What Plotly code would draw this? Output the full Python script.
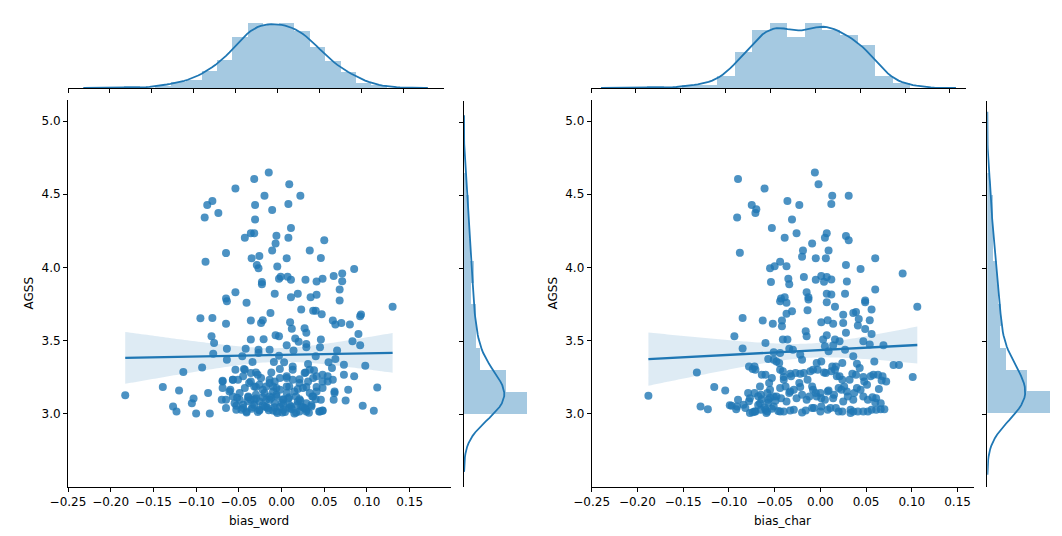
import numpy as np
import plotly.graph_objects as go

# values (bias vs AGSS)
bias_word = [
    -0.015, -0.032, -0.054, 0.009, -0.020, 0.022, -0.081, -0.087, -0.031, 0.008,
    -0.011, -0.090, -0.074, -0.031, 0.011, -0.043, -0.036, -0.032, -0.006, -0.007,
    0.008, 0.050, -0.011, 0.033, -0.065, -0.089, -0.026, -0.035, 0.006, 0.046,
    -0.029, -0.027, -0.005, 0.085, 0.071, 0.071, 0.061, 0.048, 0.041, 0.028,
    0.011, 0.007, -0.001, -0.003, -0.023, -0.023, 0.068, -0.054, -0.008, 0.019,
    0.041, 0.034, -0.065, 0.011, 0.068,
    -0.064, -0.041, 0.130, -0.013, 0.023, 0.037, 0.040, 0.047, -0.095, -0.081,
    -0.036, -0.024, -0.022, -0.065, 0.010, 0.012, 0.027, 0.029, 0.060, 0.063,
    0.070, 0.080, 0.092, 0.093, -0.082, -0.079, -0.036, -0.021, -0.007, -0.003,
    0.016, 0.020, 0.029, 0.046, 0.090, 0.083, 0.092, -0.064, -0.042, -0.027,
    -0.014, 0.006, 0.014, 0.029, 0.045, 0.065, -0.080, -0.064, -0.046, -0.034,
    -0.027, -0.003, 0.003, -0.009, 0.013, 0.031, 0.040, 0.055, 0.063, 0.073,
    0.098, -0.115, -0.093, -0.054, -0.044, -0.030, -0.012, -0.002, 0.013, 0.028,
    0.038, 0.059, 0.073, 0.085, -0.069, -0.057, -0.045, -0.036, -0.024, -0.014,
    0.006, 0.021, 0.037, 0.048, 0.054, -0.139, -0.120, -0.086, -0.069, -0.060,
    -0.043, -0.030, -0.018, -0.006, 0.006, 0.019, 0.029, 0.041, 0.062, 0.078,
    0.112, -0.183, -0.103, -0.105, -0.070, -0.057, -0.049, -0.039, -0.032, -0.022,
    -0.014, -0.006, 0.002, 0.009, 0.021, 0.036, 0.061, 0.075, -0.127, -0.123,
    -0.100, -0.084, -0.065, -0.053, -0.047, -0.041, -0.034, -0.026, -0.018, -0.010,
    -0.002, 0.001, 0.009, 0.017, 0.027, 0.029, 0.044, 0.048, 0.095, 0.108,
    -0.069, -0.057, -0.051, -0.043, -0.036, -0.028, -0.038, -0.032, -0.026, -0.014,
    -0.008, -0.002, 0.006, 0.013, 0.021, 0.027, 0.033, 0.041, 0.048, 0.054,
    0.060, -0.061, -0.049, -0.039, -0.030, -0.020, -0.010, -0.002, 0.006, 0.015,
    0.025, 0.033, 0.041, 0.048, 0.062, -0.065, -0.055, -0.045, -0.036, -0.026,
    -0.018, -0.008, 0.002, 0.009, 0.019, 0.029, 0.037, 0.046, -0.053, -0.041,
    -0.026, -0.016, -0.006, 0.002, 0.011, 0.021, 0.029, 0.045, 0.048,
    -0.022, -0.014, -0.006, 0.002, -0.020, -0.032, 0.017, 0.023, -0.010, 0.009,
    0.031, 0.035,
    -0.035, -0.028, -0.022, -0.015, -0.008, 0.004, 0.012, 0.018, 0.025, 0.032,
    -0.045, -0.040, -0.030, -0.012, 0.000, 0.008, 0.022, 0.035, -0.005, 0.015,
    -0.052, 0.040,
]
agss_word = [
    4.648, 4.605, 4.539, 4.568, 4.489, 4.489, 4.454, 4.427, 4.427, 4.434,
    4.393, 4.342, 4.372, 4.327, 4.269, 4.203, 4.233, 4.233, 4.217, 4.164,
    4.203, 4.185, 4.116, 4.116, 4.098, 4.039, 4.078, 4.062, 4.062, 4.064,
    4.016, 3.995, 4.007, 3.989, 3.959, 3.906, 3.941, 3.922, 3.904, 3.916,
    3.916, 3.936, 3.936, 3.922, 3.900, 3.886, 3.849, 3.831, 3.820, 3.820,
    3.813, 3.797, 3.788, 3.797, 3.774,
    3.769, 3.758, 3.731, 3.689, 3.712, 3.705, 3.705, 3.680, 3.653, 3.655,
    3.637, 3.621, 3.639, 3.616, 3.626, 3.582, 3.584, 3.553, 3.637, 3.610,
    3.621, 3.610, 3.667, 3.678, 3.530, 3.484, 3.507, 3.509, 3.537, 3.530,
    3.514, 3.493, 3.477, 3.507, 3.546, 3.495, 3.468, 3.445, 3.445, 3.438,
    3.438, 3.468, 3.432, 3.454, 3.454, 3.432, 3.411, 3.370, 3.393, 3.354,
    3.416, 3.397, 3.352, 3.354, 3.324, 3.340, 3.393, 3.352, 3.374, 3.336,
    3.329, 3.285, 3.317, 3.301, 3.306, 3.283, 3.283, 3.306, 3.301, 3.283,
    3.297, 3.313, 3.267, 3.256, 3.226, 3.233, 3.256, 3.221, 3.244, 3.233,
    3.244, 3.237, 3.244, 3.221, 3.256, 3.183, 3.160, 3.142, 3.176, 3.164,
    3.176, 3.183, 3.187, 3.176, 3.187, 3.169, 3.183, 3.183, 3.153, 3.164,
    3.180, 3.126, 3.105, 3.073, 3.096, 3.119, 3.096, 3.114, 3.096, 3.114,
    3.096, 3.119, 3.100, 3.114, 3.100, 3.119, 3.096, 3.091, 3.050, 3.016,
    3.002, 3.002, 3.039, 3.055, 3.027, 3.009, 3.046, 3.023, 3.046, 3.023,
    3.046, 3.009, 3.039, 3.009, 3.039, 3.016, 3.016, 3.021, 3.055, 3.021,
    3.221, 3.233, 3.233, 3.301, 3.279, 3.267, 3.210, 3.187, 3.199, 3.210,
    3.221, 3.244, 3.256, 3.233, 3.210, 3.279, 3.301, 3.256, 3.267, 3.221,
    3.233, 3.153, 3.142, 3.119, 3.130, 3.142, 3.153, 3.164, 3.142, 3.153,
    3.176, 3.142, 3.153, 3.176, 3.142, 3.096, 3.073, 3.062, 3.096, 3.084,
    3.096, 3.073, 3.096, 3.062, 3.084, 3.073, 3.119, 3.096, 3.027, 3.016,
    3.027, 3.039, 3.016, 3.027, 3.050, 3.016, 3.027, 3.016, 3.023,
    3.164, 3.119, 3.130, 3.062, 3.050, 3.062, 3.119, 3.050, 3.187, 3.187,
    3.221, 3.050,
    3.035, 3.012, 3.058, 3.025, 3.045, 3.012, 3.032, 3.060, 3.045, 3.008,
    3.040, 3.085, 3.105, 3.110, 3.075, 3.105, 3.090, 3.060, 3.005, 3.003,
    3.110, 3.100,
]

bias_char = [
    -0.006, -0.090, -0.061, -0.002, 0.013, 0.031, -0.036, -0.023, 0.012, -0.075,
    -0.070, -0.071, -0.091, -0.031, -0.053, -0.039, -0.026, 0.007, 0.005, 0.028,
    0.031, -0.019, -0.009, 0.009, -0.020, -0.005, 0.006, -0.088, 0.060, -0.044,
    -0.055, -0.050, -0.037, 0.028, 0.044, 0.090, -0.018, 0.001, 0.007, 0.012,
    -0.005, 0.004, -0.035, -0.034, -0.054, 0.029, 0.060, -0.015, 0.007, 0.012,
    0.027, -0.043, -0.039, -0.013, 0.049,
    -0.044, -0.037, -0.013, 0.007, 0.016, 0.049, 0.106, -0.014, -0.037, -0.031,
    0.025, 0.036, 0.039, 0.056, -0.085, -0.063, -0.052, -0.042, -0.042, 0.001,
    0.008, 0.014, 0.025, 0.028, 0.041, 0.049, 0.054, 0.042, 0.056, -0.094,
    -0.085, -0.060, -0.041, -0.036, -0.016, -0.015, 0.003, 0.007, 0.016, 0.021,
    0.005, 0.014, 0.047, 0.054, 0.069, -0.034, -0.030, -0.044, -0.051, -0.057,
    -0.048, -0.022, -0.020, -0.004, 0.009, 0.027, 0.036, 0.040, 0.059, 0.080,
    0.086, -0.135, -0.078, -0.074, -0.064, -0.044, -0.053, -0.040, -0.033, -0.022,
    -0.011, -0.008, 0.004, 0.013, 0.016, 0.018, 0.024, 0.035, 0.047, 0.058,
    0.067, 0.101, -0.116, -0.104, -0.079, -0.066, -0.055, -0.044, -0.033, -0.022,
    -0.008, 0.000, 0.009, 0.020, 0.029, 0.040, 0.051, 0.064, -0.188, -0.097,
    -0.090, -0.077, -0.066, -0.057, -0.048, -0.037, -0.026, -0.015, -0.004, 0.005,
    0.014, 0.025, 0.036, 0.047, 0.057, 0.060, -0.131, -0.123, -0.099, -0.092,
    -0.077, -0.071, -0.060, -0.059, -0.044, -0.033, -0.020, -0.009, 0.000, 0.011,
    0.020, 0.033, 0.036, 0.047, 0.056, 0.066,
    -0.072, -0.071, -0.060, -0.056, -0.051, -0.045, -0.041, -0.040, -0.038, -0.032,
    -0.027, -0.023, -0.018, -0.014, -0.009, -0.003, 0.001, 0.006, 0.012, 0.017,
    0.021, 0.024, 0.026, 0.032, 0.039, 0.043, 0.048, 0.055, 0.063, 0.068,
    0.072, -0.072, -0.065, -0.058, -0.051, -0.043, -0.034, -0.029, -0.020, -0.012,
    -0.005, 0.001, 0.008, 0.015, 0.023, 0.030, 0.037, 0.044, 0.052, 0.061,
    0.066, -0.091, -0.084, -0.072, -0.065, -0.058, -0.051, -0.040, -0.029, -0.016,
    -0.007, 0.001, 0.008, 0.017, 0.024, 0.033, 0.041, 0.052, 0.061, 0.070,
    -0.082, -0.078, -0.074, -0.068, -0.064, -0.061, -0.057, -0.053, -0.049, -0.046,
    -0.068, -0.055,
]
agss_char = [
    4.648, 4.605, 4.539, 4.568, 4.489, 4.489, 4.454, 4.427, 4.434, 4.427,
    4.397, 4.372, 4.342, 4.327, 4.269, 4.203, 4.233, 4.233, 4.203, 4.215,
    4.185, 4.116, 4.164, 4.116, 4.073, 4.062, 4.062, 4.100, 4.062, 4.039,
    3.995, 4.009, 4.009, 4.016, 3.989, 3.959, 3.934, 3.941, 3.934, 3.918,
    3.916, 3.902, 3.922, 3.886, 3.900, 3.904, 3.849, 3.831, 3.820, 3.815,
    3.820, 3.788, 3.797, 3.797, 3.774,
    3.769, 3.758, 3.781, 3.763, 3.731, 3.763, 3.731, 3.708, 3.683, 3.701,
    3.676, 3.689, 3.696, 3.712, 3.655, 3.637, 3.616, 3.637, 3.598, 3.626,
    3.639, 3.616, 3.621, 3.553, 3.603, 3.580, 3.639, 3.648, 3.546, 3.530,
    3.447, 3.484, 3.507, 3.507, 3.564, 3.530, 3.507, 3.537, 3.507, 3.495,
    3.461, 3.466, 3.495, 3.473, 3.468, 3.445, 3.438, 3.416, 3.420, 3.374,
    3.358, 3.404, 3.370, 3.347, 3.427, 3.438, 3.393, 3.342, 3.358, 3.333,
    3.333, 3.283, 3.324, 3.306, 3.267, 3.301, 3.244, 3.251, 3.274, 3.274,
    3.290, 3.301, 3.283, 3.324, 3.301, 3.256, 3.233, 3.274, 3.251, 3.267,
    3.228, 3.251, 3.183, 3.160, 3.142, 3.187, 3.164, 3.176, 3.153, 3.183,
    3.164, 3.142, 3.160, 3.176, 3.153, 3.176, 3.199, 3.169, 3.123, 3.055,
    3.096, 3.107, 3.073, 3.096, 3.119, 3.084, 3.107, 3.096, 3.119, 3.096,
    3.107, 3.084, 3.096, 3.119, 3.114, 3.078, 3.050, 3.032, 3.059, 3.032,
    3.005, 3.016, 3.027, 3.005, 3.016, 3.023, 3.009, 3.039, 3.016, 3.039,
    3.016, 3.005, 3.016, 3.016, 3.027, 3.032,
    3.324, 3.301, 3.267, 3.210, 3.370, 3.347, 3.290, 3.233, 3.187, 3.256,
    3.279, 3.210, 3.279, 3.233, 3.187, 3.301, 3.358, 3.279, 3.290, 3.324,
    3.256, 3.347, 3.187, 3.233, 3.267, 3.313, 3.221, 3.256, 3.267, 3.256,
    3.221, 3.142, 3.130, 3.142, 3.119, 3.107, 3.142, 3.164, 3.130, 3.119,
    3.142, 3.107, 3.153, 3.130, 3.164, 3.119, 3.142, 3.164, 3.096, 3.107,
    3.073, 3.050, 3.062, 3.016, 3.027, 3.016, 3.050, 3.016, 3.027, 3.023,
    3.039, 3.050, 3.027, 3.039, 3.016, 3.027, 3.016, 3.016, 3.027, 3.032,
    3.040, 3.085, 3.010, 3.060, 3.100, 3.045, 3.075, 3.035, 3.090, 3.020,
    3.120, 3.110,
]

x_ticks = [-0.25, -0.20, -0.15, -0.10, -0.05, 0.00, 0.05, 0.10, 0.15]
y_ticks = [3.0, 3.5, 4.0, 4.5, 5.0]

BLUE = "#1f77b4"
# page body keeps an 8px margin, so the figure is drawn 8px in from the corner
OFF = 8
W, H = 1062 - 2 * OFF, 536 - 2 * OFF


def px(v):
    return (v - OFF) / W


def py(v):
    return 1 - (v - OFF) / H


def kde(v, cut=3, n=100):
    v = np.asarray(v)
    iqr = np.subtract(*np.percentile(v, [75, 25]))
    bw = 1.059 * min(v.std(ddof=1), iqr / 1.349) * len(v) ** -0.2
    g = np.linspace(v.min() - cut * bw, v.max() + cut * bw, n)
    d = np.exp(-0.5 * ((g[:, None] - v[None, :]) / bw) ** 2).sum(1)
    return g, d / (len(v) * bw * np.sqrt(2 * np.pi))


def regfit(x, y):
    x, y = np.asarray(x), np.asarray(y)
    b, a = np.polyfit(x, y, 1)
    g = np.linspace(x.min(), x.max(), 100)
    res = y - (a + b * x)
    s = np.sqrt((res ** 2).sum() / (len(x) - 2))
    sxx = ((x - x.mean()) ** 2).sum()
    se = s * np.sqrt(1 / len(x) + (g - x.mean()) ** 2 / sxx)
    fit = a + b * g
    return g, fit, fit - 1.97 * se, fit + 1.97 * se


fig = go.Figure()

# (x, y, x bins, y bins, first axis number, main x px, top x px, side x px, x range)
panels = [
    (bias_word, agss_word, 17, 11, 1, [68, 450.7], [68, 444], [464, 530], [-0.25, 0.198]),
    (bias_char, agss_char, 15, 11, 4, [591.7, 974], [591, 966], [987.3, 1053], [-0.25, 0.168]),
]

axis_common = dict(showgrid=False, zeroline=False, showline=True, linecolor="black",
                   linewidth=1, ticks="outside", ticklen=4, tickcolor="black",
                   automargin=False, tickfont=dict(size=12, color="black"))

for xs, ys, nbx, nby, n, main_x, top_x, side_x, xr in panels:
    sfx = "" if n == 1 else str(n)
    xa, ya = f"x{sfx}", f"y{sfx}"
    xt, yt = f"x{n + 1}", f"y{n + 1}"
    xs_, ys_ = f"x{n + 2}", f"y{n + 2}"

    fig.add_trace(go.Scatter(x=xs, y=ys, mode="markers", xaxis=xa, yaxis=ya,
                             marker=dict(size=8, color=BLUE, opacity=0.8, line=dict(width=0))))
    g, fit, lo, hi = regfit(xs, ys)
    fig.add_trace(go.Scatter(x=np.concatenate([g, g[::-1]]), y=np.concatenate([hi, lo[::-1]]),
                             fill="toself", fillcolor="rgba(31,119,180,0.15)", mode="none",
                             xaxis=xa, yaxis=ya, hoverinfo="skip"))
    fig.add_trace(go.Scatter(x=g, y=fit, mode="lines", line=dict(color=BLUE, width=2.3),
                             xaxis=xa, yaxis=ya))

    # top marginal
    hx, ex = np.histogram(xs, bins=nbx, density=True)
    fig.add_trace(go.Bar(x=(ex[:-1] + ex[1:]) / 2, y=hx, width=np.diff(ex), xaxis=xt, yaxis=yt,
                         marker=dict(color="rgba(31,119,180,0.4)", line=dict(width=0))))
    kx, kdx = kde(xs)
    fig.add_trace(go.Scatter(x=kx, y=kdx, mode="lines", line=dict(color=BLUE, width=1.8),
                             xaxis=xt, yaxis=yt))
    # side marginal
    hy, ey = np.histogram(ys, bins=nby, density=True)
    fig.add_trace(go.Bar(y=(ey[:-1] + ey[1:]) / 2, x=hy, width=np.diff(ey), orientation="h",
                         xaxis=xs_, yaxis=ys_,
                         marker=dict(color="rgba(31,119,180,0.4)", line=dict(width=0))))
    ky, kdy = kde(ys)
    fig.add_trace(go.Scatter(x=kdy, y=ky, mode="lines", line=dict(color=BLUE, width=1.8),
                             xaxis=xs_, yaxis=ys_))

    fig.layout[f"xaxis{sfx}"] = dict(axis_common, domain=[px(main_x[0]), px(main_x[1])], range=xr,
                                     tickvals=x_ticks, tickformat=".2f", anchor=ya)
    fig.layout[f"yaxis{sfx}"] = dict(axis_common, domain=[py(487), py(100)], range=[2.5, 5.144],
                                     tickvals=y_ticks, tickformat=".1f", anchor=xa)
    fig.layout[f"xaxis{n + 1}"] = dict(axis_common, domain=[px(top_x[0]), px(top_x[1])], range=xr,
                                       tickvals=x_ticks, showticklabels=False, anchor=yt)
    fig.layout[f"yaxis{n + 1}"] = dict(domain=[py(88), py(20)], visible=False, automargin=False,
                                       range=[0, 1.05 * max(hx.max(), kdx.max())], anchor=xt)
    fig.layout[f"xaxis{n + 2}"] = dict(domain=[px(side_x[0]), px(side_x[1])], visible=False,
                                       automargin=False,
                                       range=[0, 1.05 * max(hy.max(), kdy.max())], anchor=ys_)
    fig.layout[f"yaxis{n + 2}"] = dict(axis_common, domain=[py(487), py(101)], range=[2.5, 5.144],
                                       tickvals=y_ticks, showticklabels=False, anchor=xs_)

labels = [("bias_word", 259.4, 521, 0), ("bias_char", 782.8, 521, 0),
          ("AGSS", 28, 293.5, -90), ("AGSS", 552, 293.5, -90)]
for text, x, y, ang in labels:
    fig.add_annotation(text=text, x=px(x), y=py(y), xref="paper", yref="paper",
                       xanchor="center", yanchor="middle", showarrow=False, textangle=ang,
                       font=dict(size=12, color="black"))

fig.update_layout(width=W, height=H, margin=dict(l=0, r=0, t=0, b=0),
                  paper_bgcolor="white", plot_bgcolor="white", showlegend=False,
                  bargap=0, font=dict(family="DejaVu Sans", color="black"))

fig.write_html("out.html")
